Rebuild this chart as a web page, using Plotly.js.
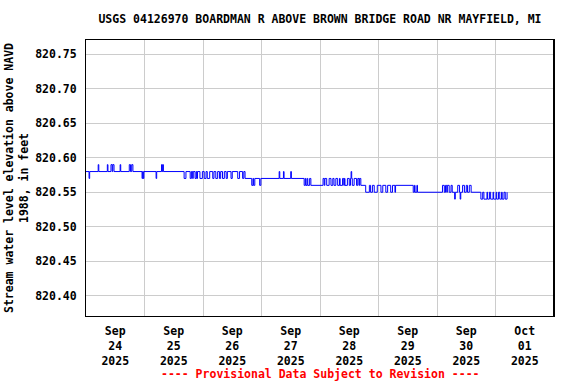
<!DOCTYPE html>
<html>
<head>
<meta charset="utf-8">
<script src="https://cdn.plot.ly/plotly-3.0.1.min.js"></script>
<style>html,body{margin:0;padding:0;background:#fff;}#chart{width:576px;height:384px;}</style>
</head>
<body>
<div id="chart"></div>
<script>
// Readings (change points of the 15-minute gage-height record), step line
const timesSep24 = ["2025-09-24 00:00","2025-09-24 01:15","2025-09-24 01:30","2025-09-24 05:00","2025-09-24 05:15","2025-09-24 08:45","2025-09-24 09:00","2025-09-24 10:15","2025-09-24 10:45","2025-09-24 11:00","2025-09-24 11:30","2025-09-24 14:00","2025-09-24 14:15","2025-09-24 17:45","2025-09-24 18:15","2025-09-24 18:45","2025-09-24 19:15","2025-09-24 23:00","2025-09-24 23:15","2025-09-24 23:30","2025-09-24 23:45"];
const levelsSep24 = [820.58,820.57,820.58,820.59,820.58,820.59,820.58,820.59,820.58,820.59,820.58,820.59,820.58,820.59,820.58,820.59,820.58,820.57,820.58,820.57,820.58];

const timesSep25 = ["2025-09-25 04:45","2025-09-25 05:00","2025-09-25 07:00","2025-09-25 07:15","2025-09-25 07:30","2025-09-25 07:45","2025-09-25 16:15","2025-09-25 17:00","2025-09-25 18:45","2025-09-25 19:15","2025-09-25 19:45","2025-09-25 20:00","2025-09-25 20:45","2025-09-25 21:15","2025-09-25 21:30","2025-09-25 21:45","2025-09-25 22:45","2025-09-25 23:45"];
const levelsSep25 = [820.57,820.58,820.59,820.58,820.59,820.58,820.57,820.58,820.57,820.58,820.57,820.58,820.57,820.58,820.57,820.58,820.57,820.58];

const timesSep26 = ["2025-09-26 00:30","2025-09-26 01:15","2025-09-26 01:45","2025-09-26 02:45","2025-09-26 04:00","2025-09-26 04:30","2025-09-26 05:15","2025-09-26 06:00","2025-09-26 06:45","2025-09-26 07:15","2025-09-26 08:00","2025-09-26 08:45","2025-09-26 09:30","2025-09-26 10:00","2025-09-26 11:30","2025-09-26 12:00","2025-09-26 14:15","2025-09-26 15:00","2025-09-26 16:15","2025-09-26 16:45","2025-09-26 17:15","2025-09-26 20:00","2025-09-26 20:30","2025-09-26 20:45","2025-09-26 21:15","2025-09-26 23:15","2025-09-26 23:45"];
const levelsSep26 = [820.57,820.58,820.57,820.58,820.57,820.58,820.57,820.58,820.57,820.58,820.57,820.58,820.57,820.58,820.57,820.58,820.57,820.58,820.57,820.58,820.57,820.56,820.57,820.56,820.57,820.56,820.57];

const timesSep27 = ["2025-09-27 07:15","2025-09-27 07:30","2025-09-27 09:00","2025-09-27 09:15","2025-09-27 12:00","2025-09-27 12:15","2025-09-27 17:30","2025-09-27 18:00","2025-09-27 18:15","2025-09-27 18:45","2025-09-27 19:00","2025-09-27 19:45","2025-09-27 20:15"];
const levelsSep27 = [820.58,820.57,820.58,820.57,820.58,820.57,820.56,820.57,820.56,820.57,820.56,820.57,820.56];

const timesSep28 = ["2025-09-28 01:15","2025-09-28 01:45","2025-09-28 02:00","2025-09-28 02:45","2025-09-28 03:45","2025-09-28 04:30","2025-09-28 05:15","2025-09-28 05:45","2025-09-28 06:30","2025-09-28 07:15","2025-09-28 08:00","2025-09-28 08:15","2025-09-28 09:15","2025-09-28 09:45","2025-09-28 10:00","2025-09-28 10:15","2025-09-28 11:15","2025-09-28 12:00","2025-09-28 12:30","2025-09-28 12:45","2025-09-28 13:00","2025-09-28 13:15","2025-09-28 14:00","2025-09-28 15:00","2025-09-28 15:30","2025-09-28 16:00","2025-09-28 16:15","2025-09-28 16:45","2025-09-28 18:45","2025-09-28 20:15","2025-09-28 20:45","2025-09-28 21:30","2025-09-28 22:15","2025-09-28 23:30"];
const levelsSep28 = [820.57,820.56,820.57,820.56,820.57,820.56,820.57,820.56,820.57,820.56,820.57,820.56,820.57,820.56,820.57,820.56,820.57,820.56,820.57,820.58,820.57,820.56,820.57,820.56,820.57,820.56,820.57,820.56,820.55,820.56,820.55,820.56,820.55,820.56];

const timesSep29 = ["2025-09-29 01:00","2025-09-29 01:45","2025-09-29 03:00","2025-09-29 03:45","2025-09-29 05:00","2025-09-29 05:45","2025-09-29 06:45","2025-09-29 07:00","2025-09-29 14:15","2025-09-29 14:45","2025-09-29 15:00","2025-09-29 15:45","2025-09-29 16:00"];
const levelsSep29 = [820.55,820.56,820.55,820.56,820.55,820.56,820.55,820.56,820.55,820.56,820.55,820.56,820.55];

const timesSep30 = ["2025-09-30 02:15","2025-09-30 03:00","2025-09-30 03:30","2025-09-30 04:00","2025-09-30 04:15","2025-09-30 05:00","2025-09-30 05:45","2025-09-30 06:15","2025-09-30 07:15","2025-09-30 07:30","2025-09-30 08:30","2025-09-30 09:15","2025-09-30 09:30","2025-09-30 09:45","2025-09-30 10:30","2025-09-30 11:15","2025-09-30 12:00","2025-09-30 12:30","2025-09-30 13:15","2025-09-30 14:00","2025-09-30 18:00","2025-09-30 18:45","2025-09-30 19:15","2025-09-30 20:30","2025-09-30 20:45","2025-09-30 21:30","2025-09-30 22:00","2025-09-30 23:00","2025-09-30 23:15"];
const levelsSep30 = [820.56,820.55,820.56,820.55,820.56,820.55,820.56,820.55,820.54,820.55,820.56,820.55,820.54,820.55,820.56,820.55,820.56,820.55,820.56,820.55,820.54,820.55,820.54,820.55,820.54,820.55,820.54,820.55,820.54];

const timesOct01 = ["2025-10-01 00:15","2025-10-01 00:30","2025-10-01 01:15","2025-10-01 01:45","2025-10-01 02:30","2025-10-01 02:45","2025-10-01 03:30","2025-10-01 04:00","2025-10-01 04:45"];
const levelsOct01 = [820.55,820.54,820.55,820.54,820.55,820.54,820.55,820.54,820.55];

// Axis labels
const tickDates = ["2025-09-24 12:00","2025-09-25 12:00","2025-09-26 12:00","2025-09-27 12:00","2025-09-28 12:00","2025-09-29 12:00","2025-09-30 12:00","2025-10-01 12:00"];
const tickLabels = ["Sep<br>24<br>2025","Sep<br>25<br>2025","Sep<br>26<br>2025","Sep<br>27<br>2025","Sep<br>28<br>2025","Sep<br>29<br>2025","Sep<br>30<br>2025","Oct<br>01<br>2025"];

const titleText = "USGS 04126970 BOARDMAN R ABOVE BROWN BRIDGE ROAD NR MAYFIELD, MI";
const yTitle = "Stream water level elevation above NAVD<br>1988, in feet";
const footer = "---- Provisional Data Subject to Revision ----";

const times = [].concat(timesSep24, timesSep25, timesSep26, timesSep27, timesSep28, timesSep29, timesSep30, timesOct01);
const levels = [].concat(levelsSep24, levelsSep25, levelsSep26, levelsSep27, levelsSep28, levelsSep29, levelsSep30, levelsOct01);

const FONT = "DejaVu Sans Mono, monospace";

const trace = {
  x: times, y: levels, type: "scatter", mode: "lines",
  line: {color: "#0000ff", width: 1, shape: "hv"},
  hoverinfo: "skip"
};

const layout = {
  width: 576, height: 384,
  margin: {l: 86, r: 22, t: 40, b: 68, pad: 0},
  paper_bgcolor: "#ffffff", plot_bgcolor: "#ffffff",
  showlegend: false,
  font: {family: FONT, size: 11.5, color: "#000", weight: "bold"},
  title: {text: titleText, x: 0.5, xref: "paper", xanchor: "center", y: 1 - 19/384, yref: "container", yanchor: "middle",
          font: {family: FONT, size: 11.5, color: "#000", weight: "bold"}},
  xaxis: {
    type: "date", range: ["2025-09-24 00:00", "2025-10-02 00:00"],
    tickmode: "array", tickvals: tickDates, ticktext: tickLabels,
    showgrid: false, ticks: "", zeroline: false,
    showline: true, mirror: true, linecolor: "#000", linewidth: 1,
    tickfont: {family: FONT, size: 11.5, color: "#000", weight: "bold"},
    ticklabelstandoff: 4,
    minor: {tickmode: "linear", tick0: "2025-09-24 00:00", dtick: 86400000, showgrid: true, gridcolor: "#cccccc", gridwidth: 1, ticks: ""}
  },
  yaxis: {
    range: [820.3706, 820.7707],
    tickmode: "linear", tick0: 820.40, dtick: 0.05, tickformat: ".2f",
    showgrid: true, gridcolor: "#cccccc", gridwidth: 1, ticks: "", zeroline: false,
    showline: true, mirror: true, linecolor: "#000", linewidth: 1,
    tickfont: {family: FONT, size: 11.5, color: "#000", weight: "bold"},
    ticklabelstandoff: 6,
    title: {text: yTitle, standoff: 4, font: {family: FONT, size: 11.5, color: "#000", weight: "bold"}}
  },
  shapes: [
    {type: "line", xref: "paper", yref: "paper", x0: 1, x1: 1, y0: 0, y1: 1, line: {color: "#000", width: 2}}
  ],
  annotations: [
    {text: footer, xref: "paper", yref: "paper", x: 0.5, y: -(374 - 316)/276, xanchor: "center", yanchor: "middle",
     showarrow: false, font: {family: FONT, size: 11.5, color: "#ff0000", weight: "bold"}}
  ]
};

Plotly.newPlot("chart", [trace], layout, {staticPlot: true, displayModeBar: false});
</script>
</body>
</html>
